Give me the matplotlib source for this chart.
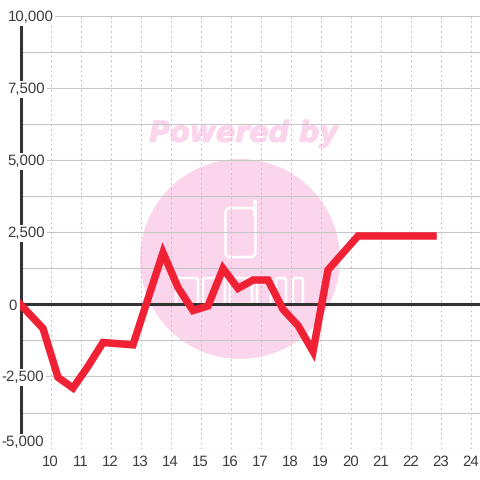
import matplotlib
matplotlib.use("Agg")
import matplotlib.pyplot as plt
import matplotlib.patheffects as pe
from matplotlib.lines import Line2D
from matplotlib.patches import Circle, FancyBboxPatch
from matplotlib.transforms import IdentityTransform

hours = [9.0, 9.75, 10.25, 10.75, 11.25, 11.75, 12.75, 13.25, 13.75, 14.25, 14.75,
         15.25, 15.75, 16.25, 16.75, 17.25, 17.75, 18.25, 18.75, 19.25, 20.25, 22.75]
values = [0, -830, -2530, -2900, -2150, -1320, -1400, 200, 1800, 590, -210,
          -50, 1250, 560, 850, 850, -170, -730, -1630, 1200, 2380, 2380]
x_ticks = list(range(10, 25))
y_major = [-5000, -2500, 0, 2500, 5000, 7500, 10000]
y_minor = [-3750, -1250, 1250, 3750, 6250, 8750]

plt.rcParams["font.family"] = "Liberation Sans"
plt.rcParams["text.hinting"] = "no_hinting"
plt.rcParams["text.hinting_factor"] = 1

W = H = 480
fig = plt.figure(figsize=(4.8, 4.8), dpi=100, facecolor="white")
px = IdentityTransform()
PINK = "#fbd5ec"
TEXT = "#3c3c3c"


def Y(y):
    return H - y


# watermark, in pixel coordinates (y measured from the top of the picture)
fig.add_artist(Circle((240, Y(259)), 100, transform=px, fc=PINK, ec="none", zorder=0))
fig.text(242 / W, 1 - 134 / H, "Powered by", family="DejaVu Sans", weight="bold", style="italic",
         fontsize=20.5, color=PINK, ha="center", va="center", zorder=0,
         path_effects=[pe.withStroke(linewidth=0.9, foreground=PINK)])
fig.add_artist(FancyBboxPatch((225.5, Y(257)), 30, 49, boxstyle="round,pad=0,rounding_size=5", transform=px,
                              fc="none", ec="white", lw=1.8, zorder=0))
fig.add_artist(Line2D([254.5, 254.5], [Y(201), Y(215)], transform=px, color="white", lw=2.6,
                      solid_capstyle="round", zorder=0))
for x0, w in [(176, 22), (203, 22), (230, 22), (257, 14), (276, 10), (293, 10)]:
    fig.add_artist(FancyBboxPatch((x0, Y(304)), w, 26, boxstyle="round,pad=0,rounding_size=2", transform=px,
                                  fc="none", ec="white", lw=1.8, zorder=0))

ax = fig.add_axes([20 / W, 1 - 448.5 / H, 460 / W, 432 / H], facecolor="none", zorder=1)
ax.set_xlim(9.0 - 0.5 / 30, 9.0 + 459.5 / 30)
ax.set_ylim(-5000, 10000)
for s in ax.spines.values():
    s.set_visible(False)

ax.set_xticks(x_ticks)
ax.set_yticks(y_major)
ax.set_yticks(y_minor, minor=True)
ax.tick_params(axis="both", which="both", length=0)
ax.tick_params(axis="x", labelsize=11, labelcolor=TEXT, pad=5)
ax.set_yticklabels([])

ax.grid(axis="y", which="both", color="#c8c8c8", lw=0.8, zorder=1)
ax.grid(axis="x", which="major", color="#c4c4c4", lw=0.72, ls=(0, (2, 2.9)), zorder=1)
ax.set_axisbelow(True)

ax.axhline(0, color="#333333", lw=2.2, zorder=2)
ax.axvline(hours[0], color="#333333", lw=2.2, zorder=2, clip_on=False)
ax.plot(hours, values, color="#f02035", lw=5.4, solid_joinstyle="miter", solid_capstyle="projecting",
        zorder=3, clip_on=True)

# value labels sit on white plates above the axis line and the grid
for v in y_major:
    dy = 6 if v == -5000 else -1
    if v < 0:
        xoff, ha = 43.5 - 20, "right"
    else:
        xoff, ha = (8 if v == 0 else 7) - 20, "left"
    ax.annotate(f"{v:,}", (9.0, v), xytext=(xoff, dy), textcoords="offset pixels",
                ha=ha, va="center", fontsize=10.5, color=TEXT, zorder=4, annotation_clip=False,
                bbox=dict(fc="white" if v != 0 else "none", ec="none", pad=1.2))
fig.savefig("out.png", dpi=100)
